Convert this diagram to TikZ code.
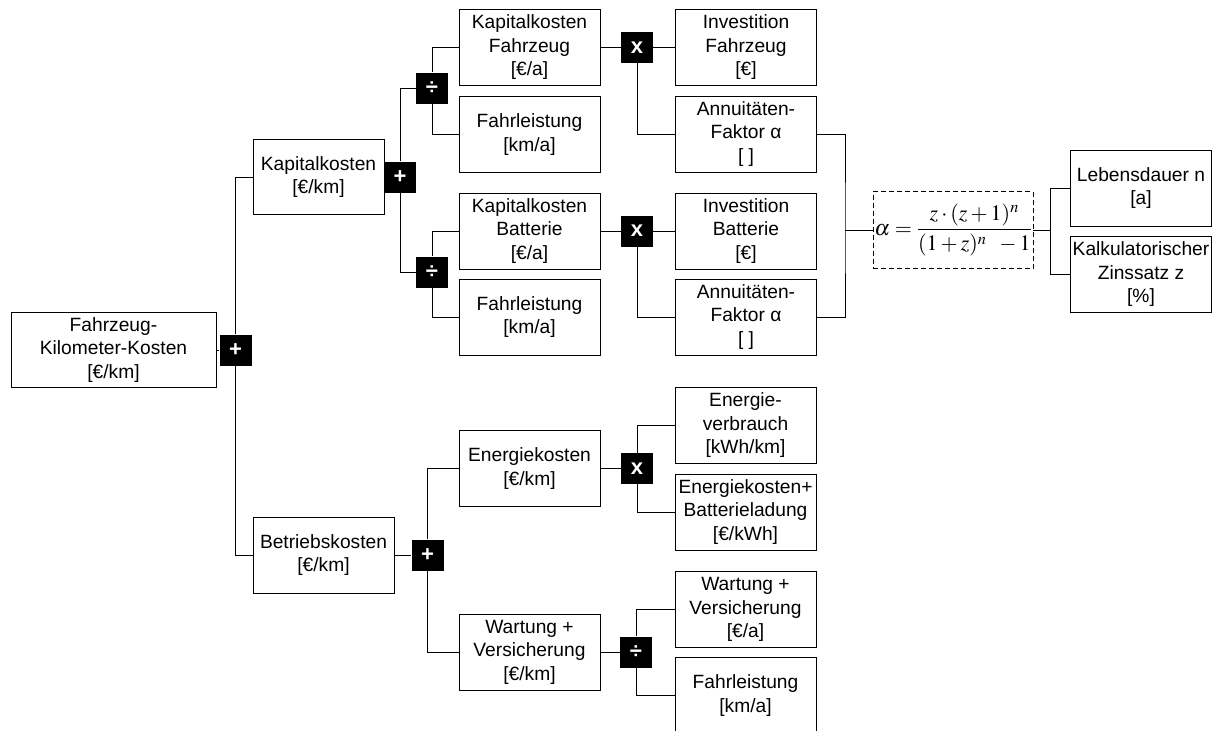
\documentclass[tikz,border=0pt]{standalone}
\usepackage{amsmath}
\usepackage{mathptmx}
\usepackage{fontspec}
\setmainfont{Liberation Sans}
\usepackage{tikz}
\usetikzlibrary{positioning}

\begin{document}
\begin{tikzpicture}[
    x=1pt, y=-1pt,
    every node/.style={font=\fontsize{19.2}{23.5}\selectfont},
    box/.style={draw, line width=1pt, minimum width=141pt, minimum height=76pt, inner sep=1pt, align=center},
    op/.style={fill=black, text=white, minimum width=32pt, minimum height=31pt, inner sep=0pt, font=\fontsize{22}{22}\selectfont\bfseries},
    con/.style={line width=0.9pt}
]
\useasboundingbox (0,0) rectangle (1216,731);

\node[box, minimum width=205pt, minimum height=75pt] (fkk) at (113.5,350) {Fahrzeug-\\Kilometer-Kosten\\{[€/km]}};
\node[op] (fkkop) at (235.5,350) {+};

\node[box, minimum width=131pt, minimum height=75pt] (kap) at (318.5,177) {Kapitalkosten\\{[€/km]}};
\node[op] (kapop) at (400,177) {+};
\node[box] (betr) at (323.5,555) {Betriebskosten\\{[€/km]}};
\node[op] (betrop) at (427.5,555) {+};

\node[op] (divfz) at (432,88) {÷};
\node[op] (divbat) at (432,272) {÷};
\node[box] (kapfz) at (529.5,47.5) {Kapitalkosten\\Fahrzeug\\{[€/a]}};
\node[box] (flfz) at (529.5,134.5) {Fahrleistung\\{[km/a]}};
\node[box] (kapbat) at (529.5,231) {Kapitalkosten\\Batterie\\{[€/a]}};
\node[box] (flbat) at (529.5,317) {Fahrleistung\\{[km/a]}};

\node[op] (mulfz) at (637,47.5) {x};
\node[op] (mulbat) at (637,231) {x};
\node[box] (invfz) at (746,47.5) {Investition\\Fahrzeug\\{[€]}};
\node[box] (annfz) at (746,134) {Annuitäten-\\Faktor α\\{[ ]}};
\node[box] (invbat) at (746,231) {Investition\\Batterie\\{[€]}};
\node[box] (annbat) at (746,317) {Annuitäten-\\Faktor α\\{[ ]}};

\coordinate (annj) at (845,230);
\node[draw, dash pattern=on 5pt off 3pt, line width=0.9pt, minimum width=160pt, minimum height=77pt, inner sep=1pt] (alpha) at (953,230)
    {\fontsize{22}{26}\selectfont $\alpha = \dfrac{z\cdot(z+1)^n}{(1+z)^n\;\;-1}$};
\coordinate (alphaj) at (1050,230);
\node[box] (leb) at (1141,188) {Lebensdauer n\\{[a]}};
\node[box] (zins) at (1141,274.5) {Kalkulatorischer\\Zinssatz z\\{[\%]}};

\node[box] (energ) at (529.5,468.5) {Energiekosten\\{[€/km]}};
\node[op] (mulen) at (637,468.5) {x};
\node[box] (verbr) at (745.5,425.5) {Energie-\\verbrauch\\{[kWh/km]}};
\node[box] (ladung) at (745.5,512) {Energiekosten+\\Batterieladung\\{[€/kWh]}};
\node[box] (wart) at (529.5,652) {Wartung +\\Versicherung\\{[€/km]}};
\node[op] (divwart) at (636,652) {÷};
\node[box] (wartj) at (745.5,609.5) {Wartung +\\Versicherung\\{[€/a]}};
\node[box] (flwart) at (745.5,695.5) {Fahrleistung\\{[km/a]}};

\draw[con] (fkk) -- (fkkop);
\draw[con] (fkkop.north) |- (kap.west);
\draw[con] (fkkop.south) |- (betr.west);

\draw[con] (kapop.north) |- (divfz.west);
\draw[con] (kapop.south) |- (divbat.west);
\draw[con] (divfz.north) |- (kapfz.west);
\draw[con] (divfz.south) |- (flfz.west);
\draw[con] (divbat.north) |- (kapbat.west);
\draw[con] (divbat.south) |- (flbat.west);

\draw[con] (kapfz.east) -- (mulfz.west);
\draw[con] (mulfz.east) -- (invfz.west);
\draw[con] (mulfz.south) |- (annfz.west);
\draw[con] (kapbat.east) -- (mulbat.west);
\draw[con] (mulbat.east) -- (invbat.west);
\draw[con] (mulbat.south) |- (annbat.west);

\draw[con] (annfz.east) -| (annj) |- (annbat.east);
\draw[con] (annj) -- (alpha.west);
\draw[con] (alpha.east) -- (alphaj);
\draw[con] (alphaj) |- (leb.west);
\draw[con] (alphaj) |- (zins.west);

\draw[con] (betr) -- (betrop);
\draw[con] (betrop.north) |- (energ.west);
\draw[con] (betrop.south) |- (wart.west);
\draw[con] (energ.east) -- (mulen.west);
\draw[con] (mulen.north) |- (verbr.west);
\draw[con] (mulen.south) |- (ladung.west);
\draw[con] (wart.east) -- (divwart.west);
\draw[con] (divwart.north) |- (wartj.west);
\draw[con] (divwart.south) |- (flwart.west);
\end{tikzpicture}
\end{document}
